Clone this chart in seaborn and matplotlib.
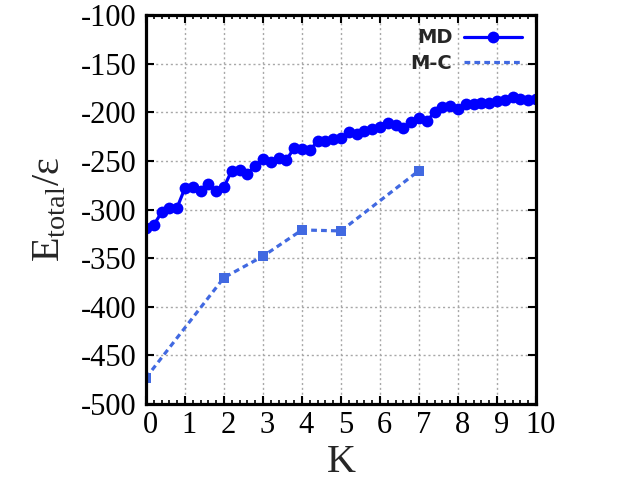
import numpy as np
import pandas as pd
import matplotlib
matplotlib.use('Agg')
import matplotlib.pyplot as plt
import matplotlib.transforms as mtransforms
from matplotlib.lines import Line2D
from matplotlib.ticker import MultipleLocator
import seaborn as sns

# datos
k_md = [round(0.2 * i, 1) for i in range(51)]
e_md = [-319, -316, -303, -298, -298, -278, -277, -281, -274, -281,
        -277, -260, -259, -263, -255, -248, -251, -247, -249, -237,
        -238, -239, -230, -230, -228, -227, -220, -222, -219, -217,
        -215, -211, -213, -216, -210, -206, -209, -200, -195, -194,
        -197, -192, -192, -191, -191, -189, -187, -184, -186, -187, -186]

k_mc = [0, 2, 3, 4, 5, 7]
e_mc = [-473, -370, -348, -321, -322, -260]

df_md = pd.DataFrame({'K': k_md, 'E': e_md})
df_mc = pd.DataFrame({'K': k_mc, 'E': e_mc})

sns.set_style('ticks')
plt.rcParams['font.family'] = ['Liberation Serif', 'DejaVu Serif']
plt.rcParams['mathtext.fontset'] = 'custom'
plt.rcParams['mathtext.rm'] = 'Liberation Serif'
plt.rcParams['axes.unicode_minus'] = False
plt.rcParams['axes.edgecolor'] = 'black'
plt.rcParams['xtick.color'] = 'black'
plt.rcParams['ytick.color'] = 'black'

fig = plt.figure(figsize=(6.4, 4.8), dpi=100)
ax = fig.add_axes([0.228, 0.158, 0.6095, 0.811])

mc_ls = (0, (1.8, 1.3))
sns.lineplot(data=df_md, x='K', y='E', ax=ax, color='#0000ff', lw=2.3,
             marker='o', markersize=8.5, markeredgewidth=0)
sns.lineplot(data=df_mc, x='K', y='E', ax=ax, color='#4169e1', lw=2.3,
             ls=mc_ls, marker='s', markersize=7, markeredgewidth=0)

ax.set_xlim(0, 10)
ax.set_ylim(-500, -100)
ax.xaxis.set_major_locator(MultipleLocator(1))
ax.xaxis.set_minor_locator(MultipleLocator(0.2))
ax.yaxis.set_major_locator(MultipleLocator(50))

ax.grid(True, which='major', color='#a8a8a8', ls=(0, (1.5, 2)), lw=1)
for s in ax.spines.values():
    s.set_linewidth(2.3)
    s.set_visible(True)

ax.tick_params(axis='both', which='major', direction='in', length=6, width=1.5,
               labelsize=22, top=True, right=True)
ax.tick_params(axis='y', which='major', pad=7)
ax.tick_params(axis='x', which='major', pad=5)
ax.tick_params(axis='x', which='minor', direction='in', length=3, width=1.2,
               top=True, bottom=True)

# etiquetas del eje x un poco a la derecha, como en el original
shift = mtransforms.ScaledTranslation(4.5 / 100, 0, fig.dpi_scale_trans)
for lab in ax.get_xticklabels():
    lab.set_transform(lab.get_transform() + shift)

ax.set_xlabel('K', fontsize=29, labelpad=3)
ax.set_ylabel(r'E$_\mathregular{total}$/ε', fontsize=29, labelpad=9)

handles = [Line2D([], [], color='#0000ff', lw=2.3, marker='o', markersize=8.5,
                  markeredgewidth=0),
           Line2D([], [], color='#4169e1', lw=2.3, ls=mc_ls)]
ax.legend(handles, ['MD', 'M-C'], loc='upper right', frameon=False,
          markerfirst=False, handlelength=3.0, borderaxespad=0.3,
          labelspacing=0.35, handletextpad=0.6,
          prop={'family': 'DejaVu Sans', 'weight': 'bold', 'size': 14})

fig.savefig('out.png', dpi=100)
